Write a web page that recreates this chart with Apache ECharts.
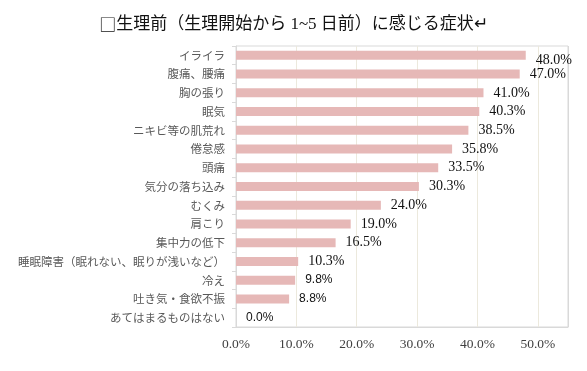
<!DOCTYPE html>
<html><head><meta charset="utf-8">
<script src="https://cdn.jsdelivr.net/npm/echarts@6/dist/echarts.min.js"></script>
<style>html,body{margin:0;padding:0;background:#fff}#c{width:587px;height:371px}</style>
</head><body><div id="c"></div>
<script>
const titleMark = '□';
const titleText = '生理前（生理開始から 1~5 日前）に感じる症状↵';
const categories = ['イライラ','腹痛、腰痛','胸の張り','眠気','ニキビ等の肌荒れ','倦怠感','頭痛','気分の落ち込み','むくみ','肩こり','集中力の低下','睡眠障害（眠れない、眠りが浅いなど）','冷え','吐き気・食欲不振','あてはまるものはない'];
const values = [48.0,47.0,41.0,40.3,38.5,35.8,33.5,30.3,24.0,19.0,16.5,10.3,9.8,8.8,0.0];
const tickValues = [0,10,20,30,40,50];

const serif = "'Liberation Serif','Noto Sans CJK JP',serif";
const sans = "'Liberation Sans',sans-serif";
const cjk = "'Noto Sans CJK JP',sans-serif";

const data = values.map((v, i) => {
  const item = { value: v };
  if (v < 10) {
    item.label = { fontFamily: sans, fontSize: 12 };
  }
  if (i === 0) {
    item.label = { offset: [0, 5] };
  }
  return item;
});

const chart = echarts.init(document.getElementById('c'), null, {renderer: 'canvas'});
chart.setOption({
  animation: false,
  title: {
    text: '{m|' + titleMark + '}' + titleText, left: 'center', top: 11,
    textStyle: {
      fontFamily: serif, fontSize: 17, fontWeight: 'normal', color: '#111',
      rich: { m: { fontFamily: cjk, fontSize: 17, color: '#111' } }
    }
  },
  grid: { left: 236, right: 19, top: 46, bottom: 44, show: true, borderColor: '#d9d9d9', borderWidth: 1 },
  xAxis: {
    type: 'value', min: 0, max: 55, interval: 10,
    axisLine: { show: true, lineStyle: { color: '#d9d9d9' } },
    axisTick: { show: false },
    splitLine: { show: true, lineStyle: { color: ['#d9d9d9','#ece9dd','#ece9dd','#ece9dd','#ece9dd','#ece9dd','#d9d9d9'], width: 1 } },
    axisLabel: {
      showMaxLabel: false, margin: 11,
      fontFamily: serif, fontSize: 13.5, color: '#404040',
      formatter: v => tickValues.includes(v) ? v.toFixed(1) + '%' : ''
    }
  },
  yAxis: {
    type: 'category', data: categories, inverse: true,
    axisLine: { show: true, lineStyle: { color: '#d9d9d9' } },
    axisTick: { show: true, length: 4, lineStyle: { color: '#d9d9d9' } },
    axisLabel: { margin: 11, fontFamily: cjk, fontSize: 11.5, color: '#595959' }
  },
  series: [{
    type: 'bar', data: data, barWidth: 9,
    itemStyle: { color: '#E6B8B7' },
    label: {
      show: true, position: 'right', distance: 10,
      fontFamily: serif, fontSize: 14, color: '#111',
      formatter: p => p.value.toFixed(1) + '%'
    }
  }]
});
</script></body></html>
